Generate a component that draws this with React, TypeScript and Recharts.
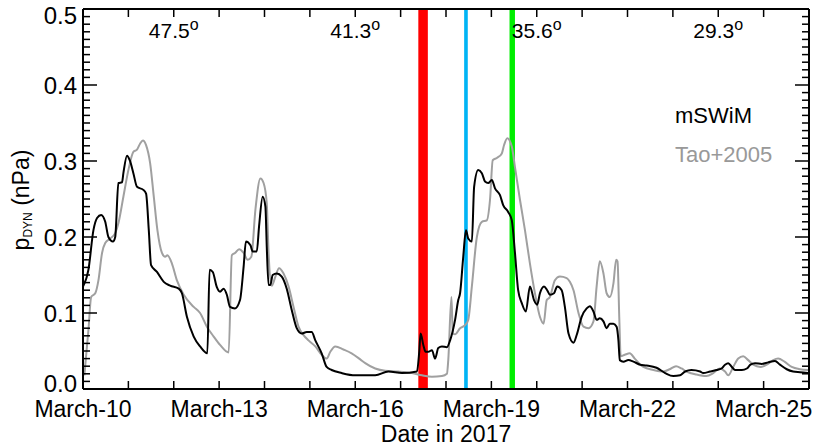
import React from 'react';
import { LineChart, Line, XAxis, YAxis, ReferenceArea, ReferenceLine, Legend } from 'recharts';

// days since March-10 00:00 (2017)
const mswimDays = [
  0.00, 0.12, 0.23, 0.31, 0.40, 0.49, 0.56, 0.66, 0.71, 0.78, 0.86, 0.89, 0.97, 1.03, 1.11, 1.19, 1.33, 1.39, 1.45, 1.50,
  1.63, 1.78, 1.92, 2.11, 2.18, 2.29, 2.44, 2.58, 2.74, 2.79, 2.86, 2.95, 3.02, 3.10, 3.17, 3.24, 3.35, 3.46, 3.54, 3.59,
  3.69, 3.74, 3.83, 3.88, 3.96, 4.02, 4.05, 4.09, 4.13, 4.18, 4.27, 4.38, 4.49, 4.60, 4.71, 4.82, 4.93, 5.04, 5.12, 5.26,
  5.37, 5.48, 5.70, 6.00, 6.44, 6.73, 7.03, 7.36, 7.41, 7.44, 7.50, 7.55, 7.61, 7.69, 7.76, 7.83, 7.91, 8.02, 8.09, 8.20,
  8.27, 8.31, 8.38, 8.44, 8.49, 8.57, 8.62, 8.71, 8.79, 8.86, 8.93, 9.01, 9.08, 9.19, 9.26, 9.37, 9.45, 9.52, 9.59, 9.67,
  9.76, 9.85, 9.94, 10.01, 10.07, 10.16, 10.23, 10.29, 10.38, 10.45, 10.55, 10.62, 10.70, 10.81, 10.88, 10.99, 11.10, 11.17, 11.25, 11.32,
  11.39, 11.47, 11.54, 11.61, 11.69, 11.76, 11.80, 11.83, 11.91, 12.02, 12.13, 12.28, 12.42, 12.64, 12.83, 13.01, 13.16, 13.27, 13.41, 13.60,
  13.67, 13.82, 13.96, 14.07, 14.15, 14.22, 14.30, 14.37, 14.52, 14.63, 14.71, 14.81, 14.96, 15.10, 15.25, 15.36, 15.51, 15.65, 15.80, 15.98,
];
const mswimValues = [
  0.135, 0.157, 0.209, 0.225, 0.229, 0.220, 0.200, 0.194, 0.200, 0.271, 0.272, 0.284, 0.307, 0.301, 0.284, 0.266, 0.262, 0.257, 0.209, 0.163,
  0.154, 0.141, 0.136, 0.132, 0.126, 0.095, 0.069, 0.056, 0.047, 0.157, 0.154, 0.134, 0.128, 0.132, 0.124, 0.108, 0.106, 0.117, 0.161, 0.194,
  0.189, 0.181, 0.181, 0.214, 0.253, 0.240, 0.187, 0.137, 0.137, 0.150, 0.152, 0.148, 0.132, 0.104, 0.080, 0.073, 0.075, 0.075, 0.064, 0.047,
  0.029, 0.025, 0.021, 0.018, 0.018, 0.023, 0.021, 0.023, 0.049, 0.073, 0.058, 0.049, 0.049, 0.051, 0.040, 0.054, 0.056, 0.055, 0.064, 0.091,
  0.117, 0.126, 0.174, 0.209, 0.198, 0.194, 0.266, 0.288, 0.284, 0.273, 0.271, 0.275, 0.264, 0.255, 0.242, 0.233, 0.222, 0.179, 0.130, 0.113,
  0.102, 0.135, 0.117, 0.111, 0.126, 0.135, 0.130, 0.124, 0.126, 0.135, 0.130, 0.108, 0.073, 0.061, 0.071, 0.095, 0.106, 0.109, 0.102, 0.091,
  0.093, 0.089, 0.080, 0.086, 0.086, 0.082, 0.064, 0.038, 0.036, 0.038, 0.036, 0.032, 0.031, 0.028, 0.021, 0.017, 0.018, 0.023, 0.025, 0.023,
  0.021, 0.023, 0.025, 0.027, 0.032, 0.034, 0.029, 0.025, 0.025, 0.027, 0.032, 0.034, 0.033, 0.035, 0.037, 0.032, 0.026, 0.023, 0.022, 0.021,
];

const taoDays = [
  0.03, 0.12, 0.18, 0.27, 0.34, 0.42, 0.49, 0.60, 0.71, 0.78, 0.89, 1.00, 1.11, 1.19, 1.26, 1.32, 1.39, 1.48, 1.56, 1.64,
  1.74, 1.81, 1.86, 1.96, 2.07, 2.22, 2.44, 2.58, 2.73, 2.88, 3.02, 3.21, 3.28, 3.35, 3.44, 3.54, 3.63, 3.71, 3.80, 3.91,
  3.98, 4.05, 4.09, 4.16, 4.24, 4.32, 4.42, 4.53, 4.64, 4.75, 4.86, 4.97, 5.12, 5.26, 5.37, 5.45, 5.56, 5.74, 5.92, 6.11,
  6.22, 6.44, 6.66, 6.95, 7.25, 7.47, 7.69, 7.91, 8.02, 8.05, 8.12, 8.15, 8.20, 8.31, 8.42, 8.49, 8.57, 8.68, 8.79, 8.90,
  8.97, 9.03, 9.12, 9.23, 9.28, 9.35, 9.45, 9.52, 9.63, 9.74, 9.85, 9.96, 10.07, 10.15, 10.22, 10.29, 10.40, 10.51, 10.66, 10.73,
  10.81, 10.92, 11.03, 11.14, 11.25, 11.32, 11.39, 11.47, 11.54, 11.61, 11.69, 11.75, 11.78, 11.82, 11.85, 11.94, 12.05, 12.16, 12.35, 12.57,
  12.79, 12.93, 13.07, 13.19, 13.30, 13.52, 13.74, 13.89, 14.03, 14.15, 14.22, 14.33, 14.44, 14.55, 14.66, 14.77, 14.93, 15.07, 15.21, 15.32,
  15.46, 15.62, 15.80, 15.98,
];
const taoValues = [
  0.018, 0.078, 0.121, 0.126, 0.143, 0.179, 0.192, 0.198, 0.205, 0.218, 0.253, 0.288, 0.312, 0.315, 0.323, 0.327, 0.321, 0.297, 0.253, 0.209,
  0.179, 0.174, 0.176, 0.165, 0.143, 0.124, 0.108, 0.100, 0.082, 0.069, 0.058, 0.048, 0.176, 0.179, 0.184, 0.179, 0.170, 0.174, 0.236, 0.277,
  0.271, 0.244, 0.179, 0.136, 0.148, 0.159, 0.152, 0.135, 0.108, 0.082, 0.071, 0.064, 0.056, 0.045, 0.040, 0.049, 0.056, 0.052, 0.047, 0.039,
  0.034, 0.027, 0.024, 0.023, 0.021, 0.018, 0.016, 0.017, 0.020, 0.038, 0.121, 0.073, 0.072, 0.080, 0.084, 0.091, 0.135, 0.200, 0.220, 0.222,
  0.249, 0.301, 0.304, 0.310, 0.321, 0.330, 0.319, 0.292, 0.249, 0.209, 0.165, 0.126, 0.095, 0.086, 0.117, 0.121, 0.143, 0.148, 0.146, 0.141,
  0.130, 0.100, 0.082, 0.080, 0.089, 0.135, 0.168, 0.152, 0.126, 0.121, 0.139, 0.170, 0.168, 0.091, 0.043, 0.045, 0.047, 0.040, 0.029, 0.025,
  0.023, 0.026, 0.030, 0.027, 0.023, 0.019, 0.017, 0.021, 0.027, 0.023, 0.018, 0.029, 0.040, 0.043, 0.038, 0.032, 0.029, 0.032, 0.038, 0.040,
  0.036, 0.029, 0.026, 0.025,
];

const dayTicks = [0, 1, 2, 3, 4, 5, 6, 7, 8, 9, 10, 11, 12, 13, 14, 15, 16];
const xLabelDays = [0, 3, 6, 9, 12, 15];
const xLabelTexts = ['March-10', 'March-13', 'March-16', 'March-19', 'March-22', 'March-25'];
const yLabelValues = [0, 0.1, 0.2, 0.3, 0.4, 0.5];
const yLabelTexts = ['0.0', '0.1', '0.2', '0.3', '0.4', '0.5'];
const yTicks = Array.from({ length: 51 }, (_, i) => i / 100);

const markerStart = [7.39, 8.40, 9.40];
const markerEnd = [7.60, 8.48, 9.52];
const markerColors = ['#ff0000', '#00b4f5', '#00ee00'];

const angleDays = [2, 6, 10, 14];
const angleTexts = ['47.5', '41.3', '35.6', '29.3'];

const seriesNames = ['mSWiM', 'Tao+2005'];
const seriesColors = ['#000000', '#a0a0a0'];
const legendTextColors = ['#000000', '#999999'];

const FONT = '"Liberation Sans", Arial, Helvetica, sans-serif';

const mswimData = mswimDays.map((d, i) => ({ day: d, p: mswimValues[i] }));
const taoData = taoDays.map((d, i) => ({ day: d, p: taoValues[i] }));

const isMajorY = (v: number) => Math.round(v * 100) % 10 === 0;

const makeYTick = (side: 'left' | 'right') => (props: any) => {
  const { x, y, payload } = props;
  const v = payload.value as number;
  const major = isMajorY(v);
  const len = major ? 14 : 7;
  const dir = side === 'left' ? 1 : -1;
  const idx = yLabelValues.findIndex((lv) => Math.abs(lv - v) < 1e-6);
  let shift = 0;
  if (idx === yLabelValues.length - 1) shift = 6;
  if (idx === 0) shift = -5.5;
  return (
    <g>
      <line x1={x} x2={x + dir * len} y1={y} y2={y} stroke="#000" strokeWidth={1.5} />
      {side === 'left' && idx >= 0 && (
        <text x={x - 6} y={y + 8.6 + shift} textAnchor="end" fontSize={24} fontFamily={FONT} fill="#000">
          {yLabelTexts[idx]}
        </text>
      )}
    </g>
  );
};

const makeXTick = (side: 'bottom' | 'top') => (props: any) => {
  const { x, y, payload } = props;
  const v = payload.value as number;
  const dir = side === 'bottom' ? -1 : 1;
  const idx = xLabelDays.indexOf(v);
  return (
    <g>
      <line x1={x} x2={x} y1={y} y2={y + dir * 8} stroke="#000" strokeWidth={1.5} />
      {side === 'bottom' && idx >= 0 && (
        <text x={x} y={y + 28} textAnchor="middle" fontSize={23} fontFamily={FONT} fill="#000">
          {xLabelTexts[idx]}
        </text>
      )}
    </g>
  );
};

const XLabel = (props: any) => {
  const vb = props.viewBox;
  return (
    <text x={vb.x + vb.width / 2} y={vb.y + 53} textAnchor="middle" fontSize={23} fontFamily={FONT} fill="#000">
      Date in 2017
    </text>
  );
};

const YLabel = (props: any) => {
  const vb = props.viewBox;
  const cy = vb.y + vb.height / 2 + 1;
  return (
    <text transform={`translate(29, ${cy}) rotate(-90)`} textAnchor="middle" fontSize={23} fontFamily={FONT} fill="#000">
      p
      <tspan fontSize={12} dy={3}>DYN</tspan>
      <tspan fontSize={23} dy={-3}> (nPa)</tspan>
    </text>
  );
};

const makeAngleLabel = (txt: string) => (props: any) => {
  const vb = props.viewBox;
  return (
    <text x={vb.x} y={vb.y + 29} textAnchor="middle" fontSize={21} fontFamily={FONT} fill="#000">
      {txt}
      <tspan fontSize={16} dy={-8}>o</tspan>
    </text>
  );
};

const LegendContent = (props: any) => {
  const items = props.payload || [];
  const ordered = seriesNames
    .map((n) => items.find((e: any) => e.value === n))
    .filter(Boolean);
  return (
    <div style={{ fontFamily: FONT }}>
      {ordered.map((e: any) => (
        <div
          key={e.value}
          style={{
            color: legendTextColors[seriesNames.indexOf(e.value)],
            fontSize: 22,
            lineHeight: '39px',
            height: 39,
            whiteSpace: 'nowrap',
          }}
        >
          {e.value}
        </div>
      ))}
    </div>
  );
};

export default function App() {
  return (
    <div style={{ position: 'absolute', left: 0, top: 0, width: 815, height: 448, background: '#fff', fontFamily: FONT }}>
      <LineChart width={815} height={448} margin={{ top: 9, right: 6, bottom: 0, left: 0 }}>
        <XAxis
          xAxisId="b"
          dataKey="day"
          type="number"
          domain={[0, 16]}
          allowDataOverflow
          ticks={dayTicks}
          interval={0}
          tickSize={0}
          tickMargin={0}
          height={59}
          axisLine={{ stroke: '#000', strokeWidth: 2 }}
          tickLine={false}
          tick={makeXTick('bottom')}
          label={<XLabel />}
        />
        <XAxis
          xAxisId="t"
          orientation="top"
          mirror
          dataKey="day"
          type="number"
          domain={[0, 16]}
          allowDataOverflow
          ticks={dayTicks}
          interval={0}
          tickSize={0}
          tickMargin={0}
          axisLine={{ stroke: '#000', strokeWidth: 2 }}
          tickLine={false}
          tick={makeXTick('top')}
        />
        <YAxis
          yAxisId="l"
          type="number"
          domain={[0, 0.5]}
          allowDataOverflow
          ticks={yTicks}
          interval={0}
          tickSize={0}
          tickMargin={0}
          width={83}
          axisLine={{ stroke: '#000', strokeWidth: 2 }}
          tickLine={false}
          tick={makeYTick('left')}
          label={<YLabel />}
        />
        <YAxis
          yAxisId="r"
          orientation="right"
          mirror
          type="number"
          domain={[0, 0.5]}
          allowDataOverflow
          ticks={yTicks}
          interval={0}
          tickSize={0}
          tickMargin={0}
          axisLine={{ stroke: '#000', strokeWidth: 2 }}
          tickLine={false}
          tick={makeYTick('right')}
        />
        {angleDays.map((d, i) => (
          <ReferenceLine key={`a${i}`} xAxisId="b" yAxisId="l" x={d} stroke="none" strokeWidth={0} label={makeAngleLabel(angleTexts[i])} />
        ))}
        {markerStart.map((s, i) => (
          <ReferenceArea key={`m${i}`} xAxisId="b" yAxisId="l" x1={s} x2={markerEnd[i]} y1={0} y2={0.5} fill={markerColors[i]} fillOpacity={1} stroke="none" />
        ))}
        <Line xAxisId="b" yAxisId="l" data={taoData} dataKey="p" name={seriesNames[1]} type="monotone" stroke={seriesColors[1]} strokeWidth={2} dot={false} isAnimationActive={false} />
        <Line xAxisId="b" yAxisId="l" data={mswimData} dataKey="p" name={seriesNames[0]} type="monotone" stroke={seriesColors[0]} strokeWidth={2} dot={false} isAnimationActive={false} />
        <Legend
          layout="vertical"
          align="center"
          verticalAlign="middle"
          wrapperStyle={{ left: 675, top: 96, width: 'auto', height: 'auto' }}
          content={<LegendContent />}
        />
      </LineChart>
    </div>
  );
}
